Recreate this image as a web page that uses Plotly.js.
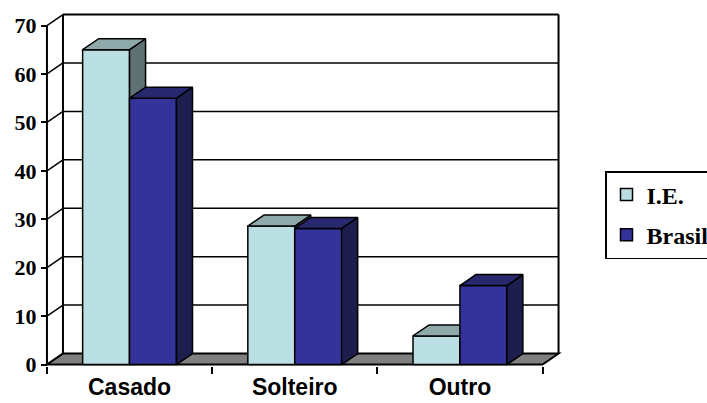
<!DOCTYPE html>
<html>
<head>
<meta charset="utf-8">
<script src="https://cdn.plot.ly/plotly-3.0.1.min.js"></script>
<style>html,body{margin:0;padding:0;background:#fff;}</style>
</head>
<body>
<div id="chart" style="width:707px;height:403px;"></div>
<script>
// Estado civil: I.E. x Brasil (%)
const categories = ['Casado', 'Solteiro', 'Outro'];
const seriesNames = ['I.E.', 'Brasil'];
const valuesIE = [65, 28.6, 5.9];
const valuesBrasil = [55, 28.1, 16.3];
const yTickValues = [0, 10, 20, 30, 40, 50, 60, 70];

// depth of the 3-D box, in axis units (x: category units, y: value units)
const DX = 0.097, DY = 2.27;
const BAR_W = 0.284;
const X0 = -0.5, X1 = categories.length - 0.5;
const YMAX = yTickValues[yTickValues.length - 1];
const idx = categories.map((c, i) => i);

const palette = {
  ie: {front: '#BBE0E3', top: '#8FA9AB', side: '#5F7273'},
  br: {front: '#333399', top: '#28286F', side: '#1E1E4E'}
};
const EDGE = {color: '#000', width: 1.5};

// front face of each bar: a real bar trace
function frontBars(name, vals, offset, col, xa, group) {
  return {
    type: 'bar', name: name, x: idx, y: vals, offset: offset, width: BAR_W,
    xaxis: xa, yaxis: 'y', legendgroup: group, hoverinfo: 'skip',
    marker: {color: col.front, line: EDGE}
  };
}

// top and right-side faces, built from the same values
function faces(vals, offset, col, xa, which) {
  const xs = [], ys = [];
  vals.forEach((v, i) => {
    const xl = i + offset, xr = xl + BAR_W;
    if (which === 'top') {
      xs.push(xl, xr, xr + DX, xl + DX, xl, null);
      ys.push(v, v, v + DY, v + DY, v, null);
    } else {
      xs.push(xr, xr + DX, xr + DX, xr, xr, null);
      ys.push(0, DY, v + DY, v, 0, null);
    }
  });
  return {
    type: 'scatter', mode: 'lines', x: xs, y: ys, xaxis: xa, yaxis: 'y',
    fill: 'toself', fillcolor: which === 'top' ? col.top : col.side,
    line: EDGE, showlegend: false, hoverinfo: 'skip'
  };
}

const traces = [
  frontBars(seriesNames[0], valuesIE, -BAR_W, palette.ie, 'x', 'g1'),
  faces(valuesIE, -BAR_W, palette.ie, 'x', 'side'),
  faces(valuesIE, -BAR_W, palette.ie, 'x', 'top'),
  frontBars(seriesNames[1], valuesBrasil, 0, palette.br, 'x2', 'g2'),
  faces(valuesBrasil, 0, palette.br, 'x2', 'side'),
  faces(valuesBrasil, 0, palette.br, 'x2', 'top')
];

// walls, floor and gridlines of the box
const shapes = [];
function seg(x0, y0, x1, y1, w) {
  shapes.push({type: 'line', xref: 'x', yref: 'y', layer: 'below',
    x0: x0, y0: y0, x1: x1, y1: y1, line: {color: '#000', width: w}});
}
shapes.push({type: 'path', xref: 'x', yref: 'y', layer: 'below',
  path: `M${X0},0 L${X1},0 L${X1 + DX},${DY} L${X0 + DX},${DY} Z`,
  fillcolor: '#808080', line: {color: '#000', width: 2}});
yTickValues.forEach(v => {
  if (v > 0) seg(X0 + DX, v + DY, X1 + DX, v + DY, v === YMAX ? 2 : 1.5);
  seg(X0, v, X0 + DX, v + DY, 1.5);
});
seg(X0 + DX, DY, X0 + DX, YMAX + DY, 2);
seg(X1 + DX, DY, X1 + DX, YMAX + DY, 2);
seg(X0, 0, X0, YMAX, 2);

const W = 707, H = 403;
const M = {l: 42, r: 143, t: 11, b: 37};
const xRange = [-0.53, 2.63];
const plotW = W - M.l - M.r;
const axisPos = (X0 - xRange[0]) / (xRange[1] - xRange[0]);

const layout = {
  width: W, height: H,
  margin: Object.assign({autoexpand: false}, M),
  paper_bgcolor: '#fff', plot_bgcolor: 'rgba(0,0,0,0)',
  barmode: 'overlay',
  showlegend: true,
  xaxis: {
    range: xRange, tickvals: [X0, 0.5, 1.5, X1], showticklabels: false,
    ticks: 'outside', ticklen: 7, tickwidth: 2, tickcolor: '#000',
    showgrid: false, zeroline: false, showline: false, fixedrange: true
  },
  xaxis2: {
    overlaying: 'x', anchor: 'y', side: 'bottom', range: xRange,
    tickvals: idx, ticktext: categories, ticks: '', ticklabelstandoff: 5,
    showgrid: false, zeroline: false, showline: false, fixedrange: true,
    tickfont: {family: 'Liberation Sans, Arial, sans-serif', size: 23, weight: 700, color: '#000'}
  },
  yaxis: {
    range: [-0.3, 73], tickvals: yTickValues, anchor: 'free', position: axisPos,
    ticks: 'outside', ticklen: 6, tickwidth: 2, tickcolor: '#000',
    showgrid: false, zeroline: false, showline: false, fixedrange: true,
    tickfont: {family: 'Liberation Serif, Times New Roman, serif', size: 22, weight: 700, color: '#000'}
  },
  legend: {
    x: (605 - M.l) / plotW, y: (H - M.b - 171) / (H - M.t - M.b),
    xanchor: 'left', yanchor: 'top',
    bgcolor: '#fff', bordercolor: '#000', borderwidth: 1.5,
    tracegroupgap: 6, traceorder: 'grouped',
    font: {family: 'Liberation Serif, Times New Roman, serif', size: 24, weight: 700, color: '#000'}
  },
  shapes: shapes
};

Plotly.newPlot('chart', traces, layout, {displayModeBar: false, staticPlot: true});
</script>
</body>
</html>
